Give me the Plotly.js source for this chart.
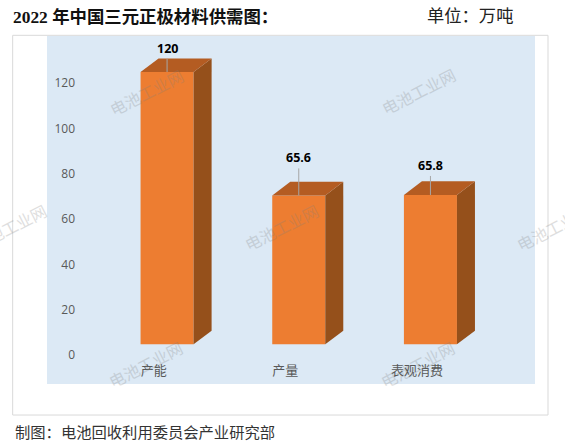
<!DOCTYPE html>
<html><head><meta charset="utf-8">
<script src="https://cdn.plot.ly/plotly-3.0.1.min.js"></script>
<style>html,body{margin:0;padding:0;background:#fff;overflow:hidden}#c{width:565px;height:446px}</style>
</head><body><div id="c"></div>
<script>
const categories = ['产能', '产量', '表观消费'];
const values = [120, 65.6, 65.8];
const valueLabels = ['120', '65.6', '65.8'];
const leaderLengths = [13, 27, 19];
const yTicks = [0, 20, 40, 60, 80, 100, 120];
const titleText = '2022 年中国三元正极材料供需图\uFF1A';
const unitText = '单位\uFF1A万吨';
const sourceText = '制图\uFF1A电池回收利用委员会产业研究部';
const watermarkText = '电池工业网';

const W = 565, H = 446;
const plot = {l: 47, r: 534.7, t: 36, b: 383.7};
const pxPerCat = 131.6, pxPerUnit = 2.267, bar0 = 167, base = 344;
const xOf = p => (p - bar0) / pxPerCat;
const yOf = p => (base - p) / pxPerUnit;
const barW = 53 / pxPerCat, dx = 18 / pxPerCat, dy = 13.6 / pxPerUnit;
const idx = categories.map((_, i) => i);
const hw = barW / 2;
const px = p => (p - plot.l) / (plot.r - plot.l);
const py = p => (plot.b - p) / (plot.b - plot.t);

const sideTraces = idx.map(i => ({
  type: 'scatter', mode: 'lines', fill: 'toself', fillcolor: '#95501B', hoverinfo: 'skip',
  line: {color: '#95501B', width: 0},
  x: [i + hw, i + hw + dx, i + hw + dx, i + hw, i + hw],
  y: [0, dy, values[i] + dy, values[i], 0]
}));
const topTraces = idx.map(i => ({
  type: 'scatter', mode: 'lines', fill: 'toself', fillcolor: '#B45C22', hoverinfo: 'skip',
  line: {color: '#B45C22', width: 0},
  x: [i - hw, i - hw + dx, i + hw + dx, i + hw, i - hw],
  y: [values[i], values[i] + dy, values[i] + dy, values[i], values[i]]
}));
const front = {
  type: 'bar', x: idx, y: values, width: barW, hoverinfo: 'skip',
  marker: {color: '#ED7D31', line: {width: 0}}
};

const wmCenters = [[147, 93], [419, 92], [10, 228], [282, 228], [554, 228], [146, 365], [418, 365]];
const watermarks = wmCenters.map(c => ({
  xref: 'paper', yref: 'paper', x: px(c[0]), y: py(c[1]), xanchor: 'center', yanchor: 'middle',
  text: watermarkText, showarrow: false, textangle: -27, opacity: 0.25,
  font: {family: 'Liberation Serif, Noto Sans CJK SC', size: 16, color: '#7f7f7f'}
}));
const dataLabels = idx.map(i => ({
  xref: 'x', yref: 'y', x: i, y: values[i], text: '<b>' + valueLabels[i] + '</b>',
  showarrow: true, arrowhead: 0, arrowwidth: 1, arrowcolor: '#A6A6A6', ax: 0, ay: -leaderLengths[i],
  standoff: 0, yanchor: 'bottom',
  font: {family: 'Open Sans, Noto Sans', size: 12.5, color: '#000000'}
}));
const texts = [
  {xref: 'paper', yref: 'paper', x: px(425), y: py(17), xanchor: 'left', yanchor: 'middle', showarrow: false,
   text: unitText, font: {family: 'Liberation Serif, Noto Sans CJK SC', size: 17.3, color: '#222'}},
  {xref: 'paper', yref: 'paper', x: px(13), y: py(431), xanchor: 'left', yanchor: 'middle', showarrow: false,
   text: sourceText, font: {family: 'Noto Sans CJK SC', size: 15.3, color: '#333'}}
];

const layout = {
  width: W, height: H, autosize: false, showlegend: false, hovermode: false, barmode: 'overlay',
  paper_bgcolor: '#FFFFFF', plot_bgcolor: '#DCE9F5',
  margin: {l: plot.l, r: W - plot.r, t: plot.t, b: H - plot.b, pad: 0},
  title: {text: '<b>' + titleText + '</b>', xref: 'container', yref: 'container', x: 13 / W, xanchor: 'left',
          y: 1 - 17 / H, yanchor: 'middle', font: {family: 'Liberation Serif, Noto Sans CJK SC', size: 17.4, color: '#111'}},
  xaxis: {range: [xOf(plot.l), xOf(plot.r)], domain: [0, 1], showgrid: false, zeroline: false, showline: false,
          anchor: 'free', position: py(361), ticks: '', fixedrange: true,
          tickmode: 'array', tickvals: idx.map(i => i - 13.4 / pxPerCat), ticktext: categories,
          tickfont: {family: 'Noto Sans CJK SC', size: 13, color: '#595959'}},
  yaxis: {range: [yOf(plot.b), yOf(plot.t)], domain: [0, 1], showgrid: false, zeroline: false, showline: false,
          anchor: 'free', position: px(75), ticks: '', fixedrange: true,
          tickmode: 'array', tickvals: yTicks.map(v => v - 11 / pxPerUnit), ticktext: yTicks.map(String),
          tickfont: {family: 'Open Sans, Noto Sans', size: 12, color: '#595959'}},
  shapes: [{type: 'rect', xref: 'paper', yref: 'paper', x0: px(12.7), x1: px(547.7), y0: py(414.7), y1: py(35.3),
            line: {color: '#D9D9D9', width: 1}, fillcolor: 'rgba(0,0,0,0)', layer: 'below'}],
  annotations: watermarks.concat(dataLabels, texts)
};
Plotly.newPlot('c', sideTraces.concat(topTraces, [front]), layout, {displayModeBar: false, staticPlot: true});
</script></body></html>
